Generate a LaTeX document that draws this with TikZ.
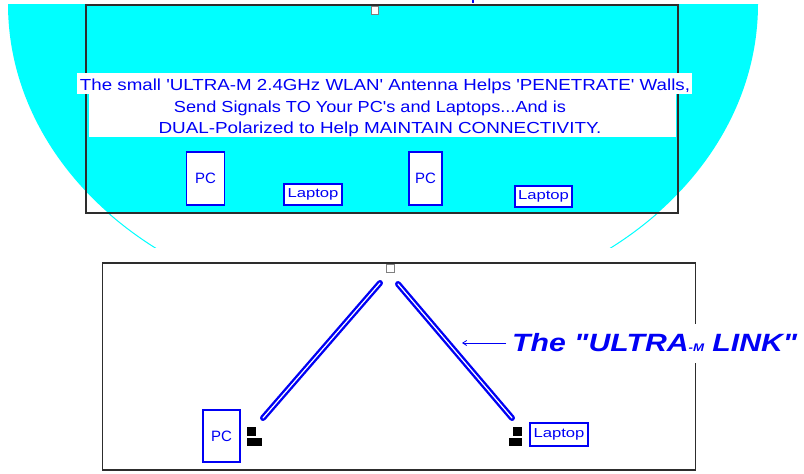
\documentclass[tikz,border=0pt]{standalone}
\usepackage{fontspec}
\setmainfont{Liberation Sans}
\usepackage{graphicx}
\usetikzlibrary{arrows.meta}
\definecolor{cy}{RGB}{0,255,255}
\definecolor{bl}{RGB}{0,0,245}
\definecolor{framec}{RGB}{45,45,45}
\definecolor{handle}{RGB}{128,128,128}
\begin{document}
\begin{tikzpicture}[x=1pt,y=-1pt,
  framebox/.style={draw=framec, line width=1.6pt, inner sep=0pt},
  devbox/.style={draw=bl, fill=white, line width=1.6pt, inner sep=0pt, text=bl},
  handlebox/.style={draw=handle, fill=white, line width=1pt, inner sep=0pt, minimum width=7.5pt, minimum height=8pt},
  maintext/.style={text=bl, inner sep=0pt, anchor=base, font=\fontsize{16}{16}\selectfont},
  bar/.style={line width=6pt, line cap=round},
  icon/.style={fill=black}
]
\useasboundingbox (0,0) rectangle (804,474);
% cyan coverage pattern
\begin{scope}
  \clip (0,4) rectangle (804,213);
  \fill[cy] (383,4) ellipse [x radius=375, y radius=307];
\end{scope}
\begin{scope}
  \clip (0,213) rectangle (804,247);
  \draw[cy, line width=1pt] (383,4) ellipse [x radius=375, y radius=307];
\end{scope}
% top room
\node (box1) [framebox, minimum width=592pt, minimum height=208pt] at (382,109) {};
\fill[white] (77,73) rectangle (692,94);
\fill[white] (89,94) rectangle (676,137);
\node (t1) [maintext] at (385,90) {\resizebox{610pt}{\height}{The small \textquotesingle ULTRA-M 2.4GHz WLAN\textquotesingle\ Antenna Helps \textquotesingle PENETRATE\textquotesingle\ Walls,}};
\node (t2) [maintext] at (370,112) {\resizebox{392pt}{\height}{Send Signals TO Your PC\textquotesingle s and Laptops...And is}};
\node (t3) [maintext] at (380,133) {\resizebox{443pt}{\height}{DUAL-Polarized to Help MAINTAIN CONNECTIVITY.}};
\node (pc1) [devbox, minimum width=38pt, minimum height=53pt] at (205.5,178.5) {\fontsize{15}{15}\selectfont PC};
\node (lt1) [devbox, minimum width=58pt, minimum height=21pt] at (313,194.5) {\resizebox{51pt}{\height}{\fontsize{13}{13}\selectfont Laptop}};
\node (pc2) [devbox, minimum width=33pt, minimum height=53pt] at (425.5,178.5) {\fontsize{15}{15}\selectfont PC};
\node (lt2) [devbox, minimum width=57pt, minimum height=21pt] at (543.5,196.5) {\resizebox{51pt}{\height}{\fontsize{13}{13}\selectfont Laptop}};
\node (h1) [handlebox] at (375,10.5) {};
\fill[bl] (471.5,0) rectangle (473.5,3);
% bottom room
\node (box2) [framebox, minimum width=593pt, minimum height=207pt] at (399,366.5) {};
\node (h2) [handlebox] at (390.5,268.5) {};
\coordinate (a1top) at (380,283);
\coordinate (a1bot) at (263,418);
\coordinate (a2top) at (398,284);
\coordinate (a2bot) at (512,418);
\draw[bar, bl] (a1top) -- (a1bot);
\draw[bar, bl] (a2top) -- (a2bot);
\draw[white, line width=1.2pt, line cap=round] (a1top) -- (a1bot);
\draw[white, line width=1.2pt, line cap=round] (a2top) -- (a2bot);
\fill[icon] (247,427) rectangle (256,436);
\fill[icon] (247,438) rectangle (262,446);
\fill[icon] (513,427) rectangle (522,436);
\fill[icon] (509,438) rectangle (522,446);
\node (pc3) [devbox, minimum width=37pt, minimum height=52pt] at (221.5,436) {\fontsize{15}{15}\selectfont PC};
\node (lt3) [devbox, minimum width=58pt, minimum height=23pt] at (559,434.5) {\resizebox{51pt}{\height}{\fontsize{13}{13}\selectfont Laptop}};
\node (lbl) [fill=white, inner xsep=1pt, inner ysep=0pt, minimum height=39pt, text=bl, anchor=west] at (511,343)
  {\resizebox{285pt}{\height}{\fontsize{25}{25}\selectfont\bfseries\itshape The \textquotedbl ULTRA{\fontsize{11}{11}\selectfont -M} LINK\textquotedbl}};
\coordinate (arrtip) at (462,343);
\draw[bl, line width=0.8pt, -{Straight Barb[length=4pt,width=5pt]}] ([xshift=-5pt]lbl.west) -- (arrtip);
\end{tikzpicture}
\end{document}
